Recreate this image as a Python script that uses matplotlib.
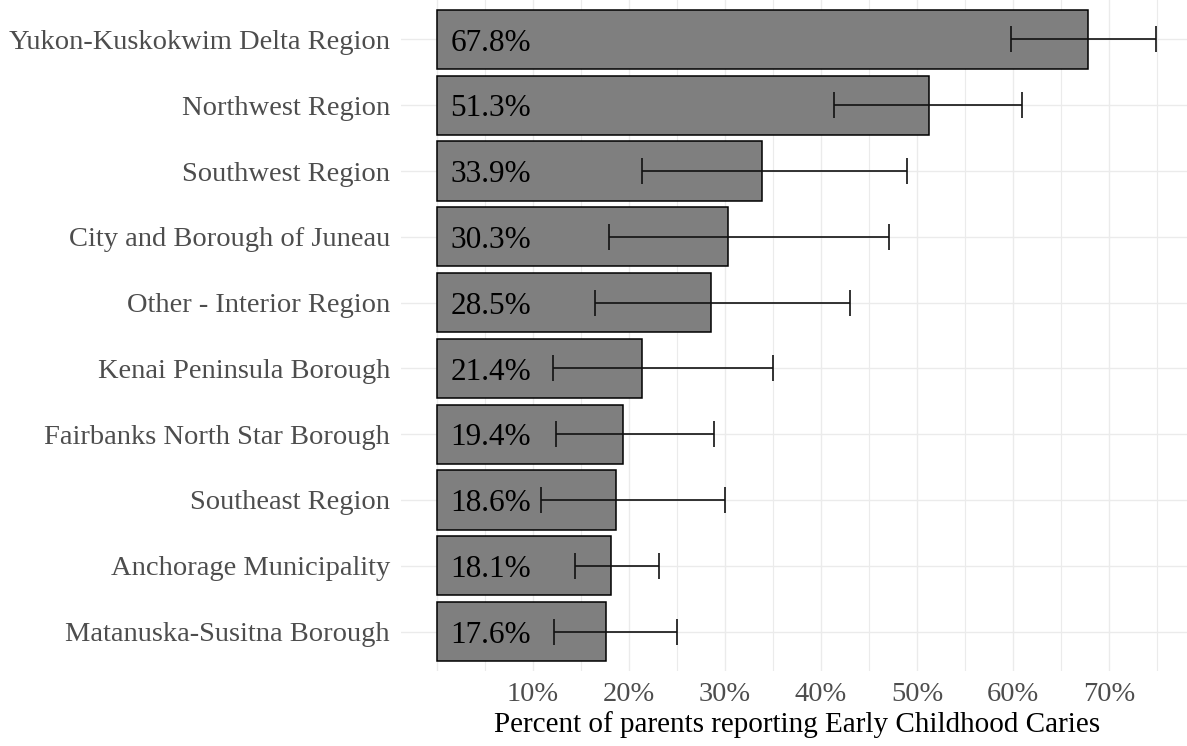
import matplotlib
matplotlib.use("Agg")
import matplotlib.pyplot as plt
import numpy as np

plt.rcParams['font.family'] = ['Liberation Serif', 'DejaVu Serif']

# regions, top to bottom
regions = ["Yukon-Kuskokwim Delta Region", "Northwest Region", "Southwest Region",
           "City and Borough of Juneau", "Other - Interior Region", "Kenai Peninsula Borough",
           "Fairbanks North Star Borough", "Southeast Region", "Anchorage Municipality",
           "Matanuska-Susitna Borough"]
percent = [67.8, 51.3, 33.9, 30.3, 28.5, 21.4, 19.4, 18.6, 18.1, 17.6]
ci_low = [59.8, 41.4, 21.4, 17.9, 16.5, 12.1, 12.4, 10.8, 14.4, 12.2]
ci_high = [74.9, 60.9, 49.0, 47.1, 43.0, 35.0, 28.9, 30.0, 23.1, 25.0]

pct = np.array(percent)
lo = np.array(ci_low)
hi = np.array(ci_high)
y = np.arange(len(regions))[::-1]

fig = plt.figure(figsize=(11.87, 7.46), dpi=100)
ax = fig.add_axes([401 / 1187, 75 / 746, 792 / 1187, 671 / 746])

# grid
for gx in np.arange(0, 80, 5):
    ax.axvline(gx, color='#ebebeb', lw=1.0 if gx % 10 == 0 else 0.8, zorder=0)
for gy in y:
    ax.axhline(gy, color='#ebebeb', lw=1.0, zorder=0)

ax.barh(y, pct, height=0.9, color='#7f7f7f', edgecolor='black', linewidth=1.1, zorder=2)
ax.errorbar(pct, y, xerr=[pct - lo, hi - pct], fmt='none', ecolor='#111111',
            elinewidth=1.2, capsize=9.5, capthick=1.2, zorder=3)

for yy, v in zip(y, pct):
    ax.text(1.4, yy - 0.17, f"{v:.1f}%", ha='left', va='baseline', fontsize=22.5,
            color='black', zorder=4)

ax.set_xlim(-3.75, 78.75)
ax.set_ylim(-0.6, len(regions) - 0.4)
ax.set_yticks(y)
ax.set_yticklabels(regions, fontsize=20.5, color='#4d4d4d')
ax.set_xticks(np.arange(10, 80, 10))
ax.set_xticklabels([f"{t}%" for t in range(10, 80, 10)], fontsize=20.5, color='#4d4d4d')
ax.tick_params(length=0)
ax.tick_params(axis='y', pad=8)
ax.tick_params(axis='x', pad=8)
ax.set_xlabel("Percent of parents reporting Early Childhood Caries", fontsize=21, labelpad=3)
for s in ax.spines.values():
    s.set_visible(False)

fig.savefig("out.png", dpi=100)
